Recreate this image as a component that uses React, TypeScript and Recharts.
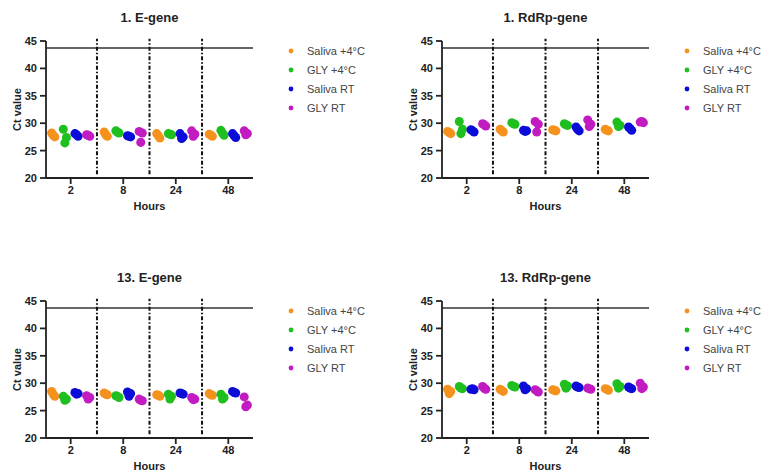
import { ScatterChart, Scatter, XAxis, YAxis, ZAxis, ReferenceLine, Legend } from "recharts";

const HOURS = ["2", "8", "24", "48"];
const GROUPS = ["Saliva +4°C", "GLY +4°C", "Saliva RT", "GLY RT"];
const COLORS = ["#f5921e", "#1fbf1f", "#0c0cd8", "#c21bc2"];
const Y_TICKS = [20, 25, 30, 35, 40, 45];
const CUTOFF = 43.7;

// Ct values, [hour][replicate]
const e1Saliva4 = [[28.2, 27.5, 27.8], [28.4, 27.6, 27.9], [28.1, 27.3, 27.7], [28.0, 27.6, 27.8]];
const e1Gly4 = [[28.9, 27.4, 26.4], [28.6, 28.2, 28.4], [28.1, 27.9, 28.0], [28.7, 27.8, 28.2]];
const e1SalivaRT = [[28.1, 27.6, 27.9], [27.7, 27.5, 27.6], [28.1, 27.5, 27.2], [28.1, 27.4, 27.7]];
const e1GlyRT = [[27.9, 27.6, 27.8], [28.5, 28.2, 26.5], [28.6, 28.0, 27.6], [28.6, 28.1, 27.9]];

const r1Saliva4 = [[28.5, 28.1, 28.3], [28.9, 28.4, 28.6], [28.8, 28.6, 28.7], [28.9, 28.6, 28.7]];
const r1Gly4 = [[30.3, 28.9, 28.1], [30.1, 29.8, 29.9], [29.9, 29.6, 29.7], [30.2, 29.6, 29.4]];
const r1SalivaRT = [[28.8, 28.4, 28.6], [28.7, 28.6, 28.5], [29.3, 28.6, 28.9], [29.3, 28.7, 29.0]];
const r1GlyRT = [[29.9, 29.5, 29.7], [30.3, 29.8, 28.4], [30.6, 29.8, 29.4], [30.2, 30.1, 30.3]];

const e13Saliva4 = [[28.5, 27.6, 28.0], [28.2, 27.9, 28.0], [27.9, 27.6, 27.8], [28.1, 27.8, 27.9]];
const e13Gly4 = [[27.6, 27.1, 26.9], [27.7, 27.4, 27.6], [28.0, 27.6, 27.1], [28.0, 27.4, 27.1]];
const e13SalivaRT = [[28.3, 28.1, 28.0], [28.4, 28.1, 27.6], [28.2, 28.0, 28.1], [28.5, 28.2, 28.3]];
const e13GlyRT = [[27.7, 27.4, 27.1], [27.1, 26.8, 26.9], [27.4, 27.1, 27.0], [27.5, 26.0, 25.7]];

const r13Saliva4 = [[28.9, 28.5, 28.1], [28.9, 28.5, 28.7], [28.8, 28.6, 28.7], [29.0, 28.7, 28.9]];
const r13Gly4 = [[29.4, 29.0, 29.1], [29.6, 29.3, 29.4], [29.8, 29.5, 29.1], [29.9, 29.4, 29.1]];
const r13SalivaRT = [[28.9, 28.8, 29.0], [29.5, 29.0, 28.8], [29.5, 29.2, 29.3], [29.3, 29.0, 29.1]];
const r13GlyRT = [[29.4, 28.9, 29.1], [28.8, 28.4, 28.6], [29.1, 28.9, 29.0], [30.0, 29.3, 29.0]];

const PANELS = [
  { title: "1. E-gene", left: 0, top: 0, groups: [e1Saliva4, e1Gly4, e1SalivaRT, e1GlyRT] },
  { title: "1. RdRp-gene", left: 396, top: 0, groups: [r1Saliva4, r1Gly4, r1SalivaRT, r1GlyRT] },
  { title: "13. E-gene", left: 0, top: 260, groups: [e13Saliva4, e13Gly4, e13SalivaRT, e13GlyRT] },
  { title: "13. RdRp-gene", left: 396, top: 260, groups: [r13Saliva4, r13Gly4, r13SalivaRT, r13GlyRT] },
];

// layout of the dots inside one hour column
const GROUP_STEP = 0.222;
const JITTER = [-0.03, 0.03, 0];

const FONT = "'Liberation Sans', Arial, sans-serif";
const W = 366;
const H = 236;

const toPoints = (values: number[][], g: number) =>
  values.flatMap((reps, i) =>
    reps.map((v, k) => ({ x: i + (g - 1.5) * GROUP_STEP + JITTER[k], y: v }))
  );

// keep legend in series order (recharts sorts by name otherwise)
const LegendList = ({ payload }: any) => {
  const items = [...(payload || [])].sort(
    (a: any, b: any) => GROUPS.indexOf(a.value) - GROUPS.indexOf(b.value)
  );
  return (
    <ul style={{ listStyle: "none", margin: 0, padding: 0, fontFamily: FONT, fontSize: 11, color: "#444" }}>
      {items.map((p: any) => (
        <li key={p.value} style={{ height: 19, display: "flex", alignItems: "center" }}>
          <svg width={10} height={10} style={{ flex: "none" }}>
            <circle cx={5} cy={5} r={2.4} fill={p.color} />
          </svg>
          <span style={{ marginLeft: 11 }}>{p.value}</span>
        </li>
      ))}
    </ul>
  );
};

function Panel({ title, left, top, groups }: (typeof PANELS)[number]) {
  return (
    <div style={{ position: "absolute", left, top, width: W, height: H }}>
      <div
        style={{
          position: "absolute", left: 46, top: 10, width: 207, textAlign: "center",
          fontFamily: FONT, fontSize: 13, fontWeight: 700, color: "#222", lineHeight: "15px",
        }}
      >
        {title}
      </div>
      <ScatterChart width={W} height={H} margin={{ top: 41, right: 113, bottom: 26, left: 0 }}>
        <XAxis
          type="number"
          dataKey="x"
          domain={[-0.47, 3.47]}
          ticks={[0, 1, 2, 3]}
          tickFormatter={(i) => HOURS[i]}
          allowDataOverflow
          height={32}
          tickSize={6}
          tickMargin={2}
          stroke="#222"
          strokeWidth={1.8}
          tick={{ fontSize: 11, fontWeight: 700, fill: "#222", fontFamily: FONT }}
          label={({ viewBox }: any) => (
            <text
              x={viewBox.x + viewBox.width / 2}
              y={viewBox.y + 32}
              textAnchor="middle"
              fontFamily={FONT}
              fontSize={11}
              fontWeight={700}
              fill="#222"
            >
              Hours
            </text>
          )}
        />
        <YAxis
          type="number"
          dataKey="y"
          domain={[20, 45]}
          ticks={Y_TICKS}
          width={46}
          tickSize={6}
          tickMargin={3}
          stroke="#222"
          strokeWidth={1.8}
          tick={{ fontSize: 11, fontWeight: 700, fill: "#222", fontFamily: FONT }}
          label={({ viewBox }: any) => {
            const cy = viewBox.y + viewBox.height / 2;
            return (
              <text
                x={21}
                y={cy}
                transform={`rotate(-90 21 ${cy})`}
                textAnchor="middle"
                fontFamily={FONT}
                fontSize={11}
                fontWeight={700}
                fill="#222"
              >
                Ct value
              </text>
            );
          }}
        />
        <ZAxis range={[24, 24]} />
        <ReferenceLine y={CUTOFF} stroke="#333" strokeWidth={1.5} />
        {[0.5, 1.5, 2.5].map((x) => (
          <ReferenceLine
            key={x}
            segment={[{ x, y: 20.7 }, { x, y: 45.4 }]}
            ifOverflow="visible"
            stroke="#111"
            strokeWidth={2}
            strokeDasharray="4 2 1.5 2"
          />
        ))}
        {groups.map((values, g) => (
          <Scatter
            key={GROUPS[g]}
            name={GROUPS[g]}
            data={toPoints(values, g)}
            fill={COLORS[g]}
            isAnimationActive={false}
          />
        ))}
        <Legend
          layout="vertical"
          align="center"
          verticalAlign="middle"
          wrapperStyle={{ left: 286, top: 41, width: 90 }}
          content={LegendList}
        />
      </ScatterChart>
    </div>
  );
}

export default function App() {
  return (
    <div style={{ position: "absolute", left: 0, top: 0, width: 762, height: 472, background: "#fff" }}>
      {PANELS.map((p) => (
        <Panel key={p.title} {...p} />
      ))}
    </div>
  );
}
